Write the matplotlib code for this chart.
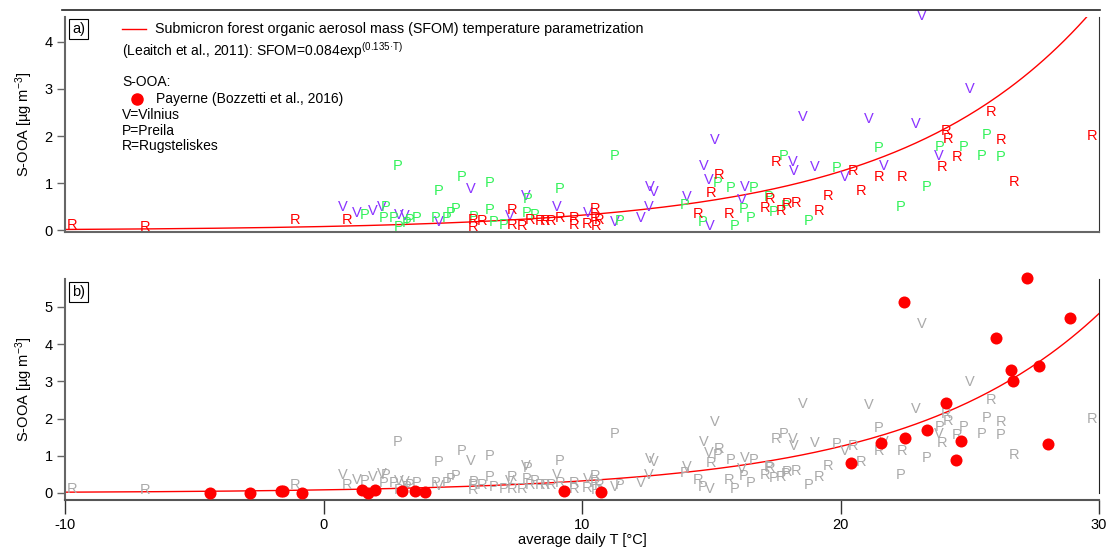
import numpy as np
import matplotlib
matplotlib.use("Agg")
import matplotlib.pyplot as plt
from matplotlib.lines import Line2D

plt.rcParams['font.family'] = ['Liberation Sans', 'DejaVu Sans']
plt.rcParams['mathtext.fontset'] = 'custom'
plt.rcParams['mathtext.rm'] = 'Liberation Sans'
plt.rcParams['mathtext.it'] = 'Liberation Sans'
plt.rcParams['axes.unicode_minus'] = False

# S-OOA for the Lithuanian sites, letter markers (T in degC, mass in ug/m3)
v_temp = [0.73, 1.28, 1.9, 2.25, 2.9, 3.15, 4.46, 5.71, 7.21, 7.83, 9.02, 10.24,
          11.28, 12.28, 12.57, 12.63, 12.79, 14.07, 14.73, 14.89, 15.15, 14.93,
          16.28, 16.2, 18.15, 18.21, 18.54, 18.99, 20.17, 21.11, 21.69, 22.92,
          23.81, 25.01, 23.15]
v_mass = [0.49, 0.36, 0.42, 0.50, 0.33, 0.30, 0.19, 0.87, 0.31, 0.73, 0.49, 0.38,
          0.17, 0.26, 0.49, 0.92, 0.82, 0.70, 1.37, 1.07, 1.92, 0.10,
          0.93, 0.65, 1.46, 1.25, 2.40, 1.35, 1.14, 2.36, 1.37, 2.25,
          1.58, 2.99, 4.55]

p_temp = [2.87, 5.35, 6.41, 4.47, 9.15, 1.58, 2.42, 2.31, 2.7, 3.35, 3.6, 2.9, 3.2,
          4.35, 4.77, 4.92, 5.11, 5.8, 6.41, 6.57, 6.96, 7.88, 7.86, 8.18, 11.25,
          11.47, 13.98, 15.25, 14.67, 15.75, 16.63, 16.24, 16.54, 15.89, 17.79,
          17.22, 17.4, 17.89, 18.75, 19.85, 21.49, 22.34, 23.33, 23.85, 24.75,
          25.46, 25.66, 26.2]
p_mass = [1.37, 1.14, 1.00, 0.84, 0.87, 0.33, 0.49, 0.27, 0.27, 0.22, 0.27, 0.07, 0.15,
          0.26, 0.26, 0.38, 0.45, 0.29, 0.43, 0.17, 0.12, 0.66, 0.38, 0.33, 1.58,
          0.21, 0.54, 1.01, 0.17, 0.89, 0.89, 0.45, 0.26, 0.10, 1.58,
          0.70, 0.40, 0.52, 0.21, 1.32, 1.74, 0.49, 0.93, 1.76, 1.76,
          1.58, 2.02, 1.56]

r_temp = [-9.72, -6.89, -1.1, 0.9, 5.8, 5.8, 6.12, 7.28, 7.28, 7.7, 7.99, 8.37, 8.57,
          8.79, 9.15, 9.69, 9.69, 10.18, 10.5, 10.5, 10.67, 10.56, 15.31, 15.0, 14.5,
          15.7, 17.5, 17.27, 17.08, 17.7, 17.92, 18.3, 19.5, 19.18, 20.5, 20.79,
          21.49, 22.4, 23.91, 24.08, 24.17, 24.5, 25.81, 26.2, 26.71, 29.72]
r_mass = [0.12, 0.08, 0.22, 0.22, 0.22, 0.07, 0.21, 0.43, 0.12, 0.10, 0.22, 0.21, 0.21,
          0.21, 0.26, 0.26, 0.12, 0.14, 0.45, 0.26, 0.22, 0.09, 1.18, 0.80, 0.35,
          0.35, 1.44, 0.66, 0.47, 0.42, 0.56, 0.59, 0.72, 0.42, 1.25, 0.84,
          1.14, 1.14, 1.35, 2.11, 1.93, 1.56, 2.50, 1.92, 1.02, 2.0]

# Payerne S-OOA (Bozzetti et al., 2016)
pay_temp = [-4.40, -2.86, -1.66, -1.55, -0.83, 1.49, 1.73, 2.0, 3.04, 3.53, 3.91,
            9.3, 10.75, 22.47, 27.2, 28.88, 26.02, 26.58, 26.66, 27.69, 24.07,
            23.36, 22.5, 21.57, 24.65, 24.47, 28.02, 20.39]
pay_mass = [0.0, 0.0, 0.05, 0.05, 0.0, 0.09, 0.0, 0.09, 0.06, 0.05, 0.02,
            0.05, 0.02, 5.12, 5.77, 4.71, 4.16, 3.31, 3.02, 3.41, 2.41,
            1.69, 1.47, 1.35, 1.40, 0.89, 1.31, 0.80]

# SFOM parametrization (Leaitch et al., 2011)
t_curve = np.linspace(-10, 30, 300)
sfom = 0.084 * np.exp(0.135 * t_curve)

W, H = 1112, 550
fig = plt.figure(figsize=(W / 100, H / 100), dpi=100)

red = '#FF0000'
green = '#33F25A'
purple = '#8A33FF'
gray = '#AAAAAA'
letter_size = 10.5

def px(x, y):
    return x / W, 1 - y / H

# ---------- panel a ----------
ax_a = fig.add_axes([65 / W, 1 - 232 / H, 1034 / W, 215 / H])
ax_a.set_xlim(-10, 30)
ax_a.set_ylim(-0.032, 4.52)
ax_a.plot(t_curve, sfom, color=red, lw=1)
for t, m in zip(v_temp, v_mass):
    ax_a.text(t, m, 'V', color=purple, fontsize=letter_size, ha='center', va='center')
for t, m in zip(p_temp, p_mass):
    ax_a.text(t, m, 'P', color=green, fontsize=letter_size, ha='center', va='center')
for t, m in zip(r_temp, r_mass):
    ax_a.text(t, m, 'R', color=red, fontsize=letter_size, ha='center', va='center')

ax_a.spines['top'].set_visible(False)
ax_a.spines['left'].set_color('#666666')
ax_a.spines['left'].set_linewidth(1.5)
ax_a.spines['bottom'].set_color('#666666')
ax_a.spines['bottom'].set_linewidth(1.5)
ax_a.spines['right'].set_color('#333333')
ax_a.set_xticks([])
ax_a.set_yticks([0, 1, 2, 3, 4])
ax_a.tick_params(axis='y', direction='out', length=6, width=1, color='#666666', labelsize=10.5, pad=3)
ax_a.set_ylabel('S-OOA [µg m$^{-3}$]', fontsize=10.5, labelpad=7)
ax_a.text(0.007, 0.945, 'a)', transform=ax_a.transAxes, fontsize=10.5, ha='left', va='center',
          bbox=dict(boxstyle='square,pad=0.2', fc='white', ec='black', lw=0.8))

# top frame line
fig.add_artist(Line2D([62 / W, 1100 / W], [1 - 10 / H, 1 - 10 / H], color='#222222', lw=1.2))

# legend annotation
fig.add_artist(Line2D([122 / W, 146 / W], [1 - 29 / H, 1 - 29 / H], color=red, lw=1))
fig.text(*px(155, 29), 'Submicron forest organic aerosol mass (SFOM) temperature parametrization',
         fontsize=10.3, ha='left', va='center')
fig.text(*px(122, 51), '(Leaitch et al., 2011): SFOM=0.084exp$^{(0.135\u00b7T)}$',
         fontsize=10, ha='left', va='center')
fig.text(*px(122, 82), 'S-OOA:', fontsize=10, ha='left', va='center')
fig.add_artist(Line2D([137 / W], [1 - 99 / H], marker='o', color=red, markersize=8, ls='none'))
fig.text(*px(156, 99), 'Payerne (Bozzetti et al., 2016)', fontsize=10, ha='left', va='center')
fig.text(*px(122, 115), 'V=Vilnius', fontsize=10, ha='left', va='center')
fig.text(*px(122, 131), 'P=Preila', fontsize=10, ha='left', va='center')
fig.text(*px(122, 146), 'R=Rugsteliskes', fontsize=10, ha='left', va='center')

# ---------- panel b ----------
ax_b = fig.add_axes([65 / W, 1 - 499.5 / H, 1034 / W, 220.5 / H])
ax_b.set_xlim(-10, 30)
ax_b.set_ylim(-0.175, 5.75)
for t, m in zip(v_temp, v_mass):
    ax_b.text(t, m, 'V', color=gray, fontsize=letter_size, ha='center', va='center')
for t, m in zip(p_temp, p_mass):
    ax_b.text(t, m, 'P', color=gray, fontsize=letter_size, ha='center', va='center')
for t, m in zip(r_temp, r_mass):
    ax_b.text(t, m, 'R', color=gray, fontsize=letter_size, ha='center', va='center')
ax_b.plot(t_curve, sfom, color=red, lw=1)
ax_b.scatter(pay_temp, pay_mass, s=75, color=red, zorder=5, clip_on=False, linewidths=0)

ax_b.spines['top'].set_visible(False)
ax_b.spines['left'].set_color('#666666')
ax_b.spines['left'].set_linewidth(1.5)
ax_b.spines['bottom'].set_color('#555555')
ax_b.spines['bottom'].set_linewidth(1.5)
ax_b.spines['right'].set_color('#222222')
ax_b.spines['right'].set_bounds(0, 5.75)
ax_b.set_xticks([-10, 0, 10, 20, 30])
ax_b.set_yticks([0, 1, 2, 3, 4, 5])
ax_b.tick_params(axis='y', direction='out', length=6, width=1, color='#666666', labelsize=10.5, pad=3)
ax_b.tick_params(axis='x', direction='out', length=10, width=1, color='#333333', labelsize=10.5, pad=3)
ax_b.set_ylabel('S-OOA [µg m$^{-3}$]', fontsize=10.5, labelpad=7)
ax_b.text(0.007, 0.94, 'b)', transform=ax_b.transAxes, fontsize=10.5, ha='left', va='center',
          bbox=dict(boxstyle='square,pad=0.2', fc='white', ec='black', lw=0.8))

fig.text(*px(582, 540), 'average daily T [°C]', fontsize=10.5, ha='center', va='center')

fig.savefig('out.png', dpi=100)
